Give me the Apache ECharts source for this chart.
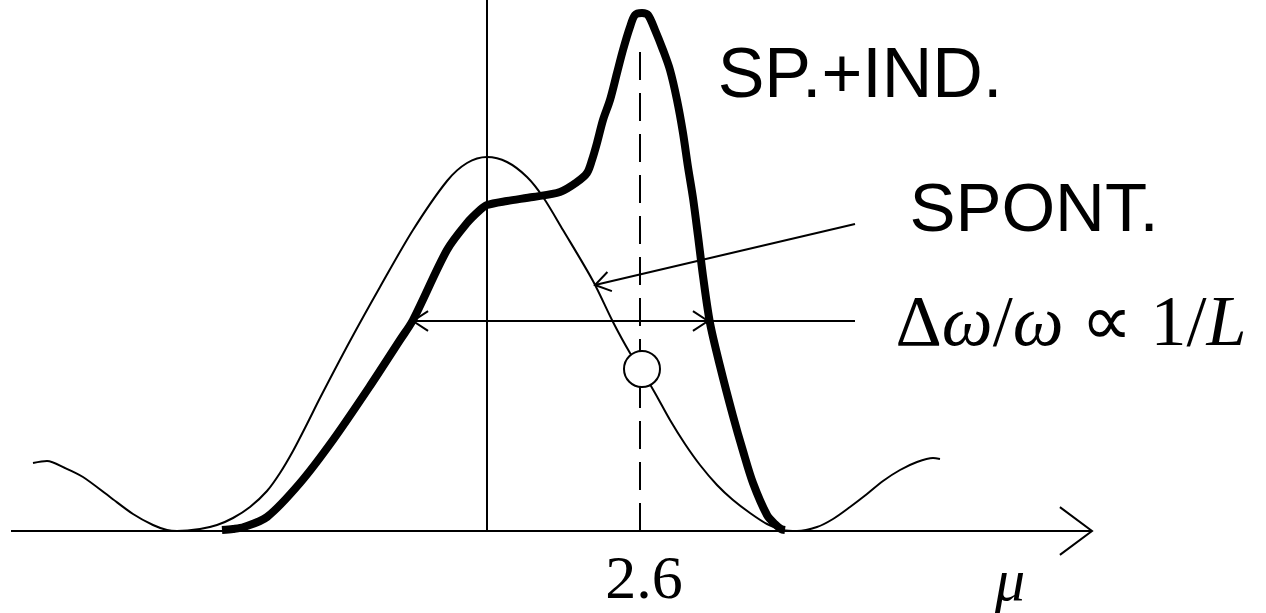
<!DOCTYPE html>
<html>
<head>
<meta charset="utf-8">
<script src="https://cdn.jsdelivr.net/npm/echarts@6/dist/echarts.min.js"></script>
<style>
  html, body { margin: 0; padding: 0; background: #fff; }
  #main { width: 1266px; height: 613px; }
</style>
</head>
<body>
<div id="main"></div>
<script>
// spontaneous emission line shape (thin), x along mu, y intensity
const spontCurve = [
  [33,68],[47,70],[65,63],[83,54],[110,34],[133,17],[153,6],[167,1],[177,0],
  [200,2],[217,6],[233,13],[250,24],[267,40],[280,58],[293,80],[307,107],
  [320,133],[350,190],[380,244],[413,301],[447,350],[467,368],[487,374],
  [507,369],[527,354],[543,334],[563,301],[593,250],[613,209],[630,178],
  [642,160],[655,138],[670,111],[685,87],[700,66],[717,46],[733,31],
  [750,18],[767,7],[783,1],[797,0],[817,4],[833,12],[850,24],[867,37],
  [883,50],[900,61],[917,69],[933,73],[940,72]
];

// spontaneous + induced (thick)
const spIndCurve = [
  [222,1],[233,2],[244,4],[267,14],[300,48],[333,91],[370,145],[400,191],
  [413,211],[447,281],[467,308],[480,321],[487,326],[507,330],[533,334],
  [560,339],[577,349],[587,358],[592,371],[597,388],[603,411],[610,431],
  [617,458],[623,481],[630,504],[635,516],[642,518],[648,516],[655,501],
  [663,481],[670,461],[677,431],[683,398],[688,364],[693,333],[698,295],
  [703,255],[710,208],[720,165],[733,115],[743,80],[753,48],[767,16],
  [775,7],[781,2],[785,1]
];

// reference lines
const muAxis = [[11,0],[1092,0]];
const centerLine = [[487,0],[487,531]];
const peakLine = [[640,0],[640,491]];
const widthLine = [[413,210],[855,210]];
const spontPointer = [[855,307],[595,246]];

// arrow heads: tip, and a point back along the shaft
const bigHeads = [[[1092,0],[1000,0]]];
const smallHeads = [
  [[413,210],[500,210]],
  [[708,210],[600,210]],
  [[595,246],[855,307]]
];

// marked point on the spontaneous curve
const markedPoint = [[642,162]];

// texts
const labelTexts = [
  { name: 'SP.+IND.', pos: [860,453] },
  { name: 'SPONT.', pos: [1034,319] },
  { name: 'width', pos: [1071,205] },
  { name: '2.6', pos: [644,-51] },
  { name: 'mu', pos: [1010,-53] }
];

function head(tip, from, len, ang) {
  const dx = from[0] - tip[0], dy = from[1] - tip[1];
  const d = Math.hypot(dx, dy);
  const ux = dx / d, uy = dy / d;
  const c = Math.cos(ang), s = Math.sin(ang);
  return [
    [tip[0] + len * (ux * c - uy * s), tip[1] + len * (ux * s + uy * c)],
    tip,
    [tip[0] + len * (ux * c + uy * s), tip[1] + len * (-ux * s + uy * c)]
  ];
}

const thin = { color: '#000', width: 2, opacity: 1 };

const lineData = [
  { coords: muAxis, lineStyle: thin },
  { coords: centerLine, lineStyle: thin },
  { coords: peakLine, lineStyle: { color: '#000', width: 2, opacity: 1, type: [28, 13] } },
  { coords: widthLine, lineStyle: thin },
  { coords: spontPointer, lineStyle: thin }
];
bigHeads.forEach(h => lineData.push({ coords: head(h[0], h[1], 40, 0.64), lineStyle: thin }));
smallHeads.forEach(h => lineData.push({ coords: head(h[0], h[1], 18, 0.58), lineStyle: thin }));

const sans = { fontFamily: 'Liberation Sans', color: '#000' };
const serif = 'Liberation Serif';

const labelCfg = {
  'SP.+IND.': { formatter: 'SP.+IND.', fontSize: 70, ...sans },
  'SPONT.': { formatter: 'SPONT.', fontSize: 69, ...sans },
  'width': {
    formatter: '{u|Δ}{i|ω}{u|/}{i|ω}{u| ∝ 1/}{i|L}',
    rich: {
      u: { fontFamily: serif, fontSize: 72, color: '#000' },
      i: { fontFamily: serif, fontStyle: 'italic', fontSize: 72, color: '#000' }
    }
  },
  '2.6': { formatter: '2.6', fontSize: 62, fontFamily: serif, color: '#000' },
  'mu': { formatter: 'μ', fontSize: 60, fontFamily: serif, fontStyle: 'italic', color: '#000' }
};

const chart = echarts.init(document.getElementById('main'));
chart.setOption({
  animation: false,
  backgroundColor: '#fff',
  grid: { left: 0, right: 0, top: 0, bottom: 0 },
  xAxis: { type: 'value', min: 0, max: 1266, show: false },
  yAxis: { type: 'value', min: -82, max: 531, show: false },
  series: [
    {
      type: 'lines',
      coordinateSystem: 'cartesian2d',
      polyline: true,
      silent: true,
      z: 2,
      data: lineData
    },
    {
      type: 'line',
      name: 'SPONT.',
      data: spontCurve,
      smooth: 0.3,
      showSymbol: false,
      lineStyle: { color: '#000', width: 2 },
      z: 3
    },
    {
      type: 'line',
      name: 'SP.+IND.',
      data: spIndCurve,
      smooth: 0.3,
      showSymbol: false,
      lineStyle: { color: '#000', width: 8, cap: 'butt', join: 'round' },
      z: 4
    },
    {
      type: 'scatter',
      data: markedPoint,
      symbol: 'circle',
      symbolSize: 36,
      itemStyle: { color: '#fff', borderColor: '#000', borderWidth: 2, opacity: 1 },
      z: 5
    },
    {
      type: 'scatter',
      symbolSize: 1,
      itemStyle: { color: 'rgba(0,0,0,0)', opacity: 1 },
      z: 6,
      data: labelTexts.map(t => ({
        value: t.pos,
        label: Object.assign({ show: true, position: 'inside', align: 'center', verticalAlign: 'middle', opacity: 1 }, labelCfg[t.name])
      }))
    }
  ]
});
</script>
</body>
</html>
